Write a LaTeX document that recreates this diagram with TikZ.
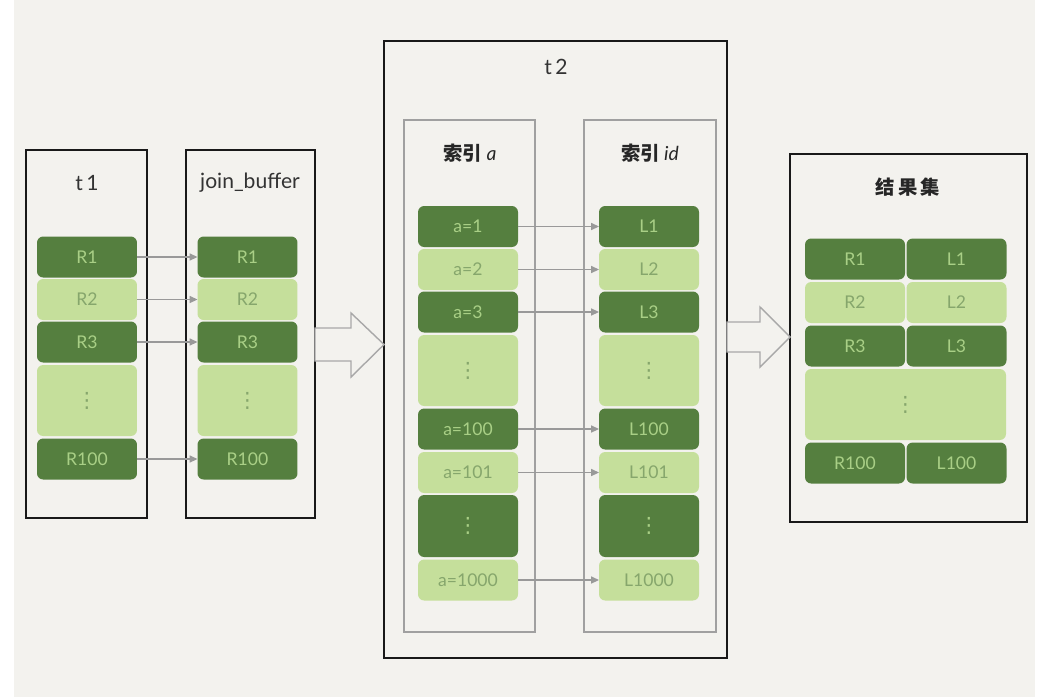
\documentclass[tikz,border=0pt]{standalone}
\usepackage{fontspec}
\setmainfont{Lato}
\newfontfamily\cjkfont{Noto Sans CJK SC}
\newfontfamily\symfont{DejaVu Sans}
\usetikzlibrary{arrows.meta, positioning}
\definecolor{paper}{HTML}{F3F2EE}
\definecolor{leafdark}{HTML}{557F3F}
\definecolor{leaflight}{HTML}{C5DF9B}
\definecolor{leafdarktext}{HTML}{A9CF86}
\definecolor{leaflighttext}{HTML}{86A66C}
\definecolor{linkgray}{HTML}{999999}
\definecolor{idxgray}{HTML}{A0A0A0}
\newcommand{\dotsv}{{\symfont\fontsize{12}{13}\selectfont ⋮}}

\begin{document}
\begin{tikzpicture}[
        x=0.02cm, y=-0.02cm,
        font=\fontsize{10}{12}\selectfont,
        every node/.style={align=center, outer sep=0pt, inner sep=0pt},
        % marcos: tablas en negro, indices en gris
        tablebox/.style={rectangle, draw=black!90, line width=1.1pt},
        idxbox/.style={rectangle, draw=idxgray, line width=0.9pt},
        % celdas de fila, 2cm x 0.82cm
        cell/.style={rectangle, rounded corners=3.5pt,
                     minimum width=2cm, minimum height=0.82cm},
        darkcell/.style={cell, fill=leafdark, text=leafdarktext},
        lightcell/.style={cell, fill=leaflight, text=leaflighttext},
        boxtitle/.style={font=\fontsize{12}{14}\selectfont, text=black!80},
        cjktitle/.style={font=\cjkfont\bfseries\fontsize{11}{13}\selectfont, text=black!85},
        link/.style={-{Triangle[length=4.5pt, width=4pt]},
                     draw=linkgray, line width=0.8pt},
        % flecha hueca entre bloques
        bigarrow/.style={draw=linkgray!85, line width=0.8pt,
                         fill=paper, line join=miter}
    ]
        \fill[white] (0,0) rectangle (1043,697);
        \fill[paper] (14,0) rectangle (1035,697);

        % t1
        \node[tablebox, minimum width=2.42cm, minimum height=7.36cm] (t1) at (86.5,334) {};
        \node[boxtitle] (t1name) at (87,183) {t\,1};
        \node[darkcell] (r1) at (87,257) {R1};
        \node[lightcell] (r2) at (87,299.5) {R2};
        \node[darkcell] (r3) at (87,342) {R3};
        \node[lightcell, minimum height=1.42cm] (rdots) at (87,400.5) {\dotsv};
        \node[darkcell] (r100) at (87,459) {R100};

        % join_buffer
        \node[tablebox, minimum width=2.58cm, minimum height=7.36cm] (jb) at (250.5,334) {};
        \node[boxtitle] (jbname) at (250,183) {join\_buffer};
        \node[darkcell] (jr1) at (247.5,257) {R1};
        \node[lightcell] (jr2) at (247.5,299.5) {R2};
        \node[darkcell] (jr3) at (247.5,342) {R3};
        \node[lightcell, minimum height=1.42cm] (jrdots) at (247.5,400.5) {\dotsv};
        \node[darkcell] (jr100) at (247.5,459) {R100};

        \draw[link] (r1.east) -- (jr1.west);
        \draw[link] (r2.east) -- (jr2.west);
        \draw[link] (r3.east) -- (jr3.west);
        \draw[link] (r100.east) -- (jr100.west);

        % t2 con sus dos indices
        \node[tablebox, minimum width=6.86cm, minimum height=12.34cm] (t2) at (555.5,349.5) {};
        \node[boxtitle] (t2name) at (556,67) {t\,2};
        \node[idxbox, minimum width=2.62cm, minimum height=10.24cm] (idxa) at (469.5,376) {};
        \node[idxbox, minimum width=2.64cm, minimum height=10.24cm] (idxid) at (650,376) {};
        \node[cjktitle] (idxaname) at (470,153) {索引 {\normalfont\itshape a}};
        \node[cjktitle] (idxidname) at (650,153) {索引 {\normalfont\itshape id}};

        \node[darkcell] (a1) at (468,226.5) {a=1};
        \node[lightcell] (a2) at (468,269.5) {a=2};
        \node[darkcell] (a3) at (468,312) {a=3};
        \node[lightcell, minimum height=1.42cm] (adots) at (468,370.5) {\dotsv};
        \node[darkcell] (a100) at (468,429) {a=100};
        \node[lightcell] (a101) at (468,472.5) {a=101};
        \node[darkcell, minimum height=1.24cm] (adotsb) at (468,526) {\dotsv};
        \node[lightcell] (a1000) at (468,580) {a=1000};

        \node[darkcell] (l1) at (649,226.5) {L1};
        \node[lightcell] (l2) at (649,269.5) {L2};
        \node[darkcell] (l3) at (649,312) {L3};
        \node[lightcell, minimum height=1.42cm] (ldots) at (649,370.5) {\dotsv};
        \node[darkcell] (l100) at (649,429) {L100};
        \node[lightcell] (l101) at (649,472.5) {L101};
        \node[darkcell, minimum height=1.24cm] (ldotsb) at (649,526) {\dotsv};
        \node[lightcell] (l1000) at (649,580) {L1000};

        \draw[link] (a1.east) -- (l1.west);
        \draw[link] (a2.east) -- (l2.west);
        \draw[link] (a3.east) -- (l3.west);
        \draw[link] (a100.east) -- (l100.west);
        \draw[link] (a101.east) -- (l101.west);
        \draw[link] (a1000.east) -- (l1000.west);

        % resultado
        \node[tablebox, minimum width=4.74cm, minimum height=7.36cm] (res) at (908.5,338) {};
        \node[cjktitle] (resname) at (908,187) {结\,果\,集};
        \node[darkcell] (s1) at (855,259) {R1};
        \node[darkcell] (t1r) at (956.5,259) {L1};
        \node[lightcell] (s2) at (855,302.5) {R2};
        \node[lightcell] (t2r) at (956.5,302.5) {L2};
        \node[darkcell] (s3) at (855,346) {R3};
        \node[darkcell] (t3r) at (956.5,346) {L3};
        \node[lightcell, minimum width=4.02cm, minimum height=1.42cm] (sdots) at (905.5,404.5) {\dotsv};
        \node[darkcell] (s100) at (855,463) {R100};
        \node[darkcell] (t100r) at (956.5,463) {L100};

        % flechas huecas
        \draw[bigarrow] (jb.east |- 0,328) -- (351,328) -- (351,313)
            -- (t2.west |- 0,344.5) -- (351,377) -- (351,361)
            -- (jb.east |- 0,361) -- cycle;
        \draw[bigarrow] (t2.east |- 0,322) -- (760,322) -- (760,307)
            -- (res.west |- 0,337) -- (760,367) -- (760,352)
            -- (t2.east |- 0,352) -- cycle;
    \end{tikzpicture}
\end{document}
